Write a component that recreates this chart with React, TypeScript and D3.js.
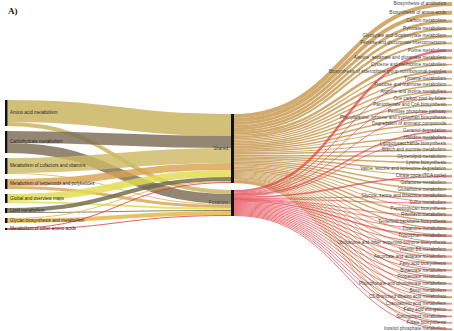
import React from 'react';
import * as d3 from 'd3';

const leftCategories = [
  'Amino acid metabolism',
  'Carbohydrate metabolism',
  'Metabolism of cofactors and vitamins',
  'Metabolism of terpenoids and polyketides',
  'Global and overview maps',
  'Lipid metabolism',
  'Glycan biosynthesis and metabolism',
  'Metabolism of other amino acids',
];
const leftColors = ['#c8b25a', '#7b6c55', '#cdb964', '#d9a24f', '#e2dc4e', '#6f6a4c', '#e7b344', '#e03c3c'];
const leftToShared = [44, 24, 30, 14, 14, 8, 2, 2];
const leftToFusarium = [8, 20, 2, 6, 4, 2, 8, 2];

const middleGroups = ['Shared', 'Fusarium'];
const middleColors = ['#c99c55', '#e23c46'];

const rightPathways = [
  'Biosynthesis of antibiotics',
  'Biosynthesis of amino acids',
  'Carbon metabolism',
  'Pyruvate metabolism',
  'Glyoxylate and dicarboxylate metabolism',
  'Pentose and glucuronate interconversions',
  'Purine metabolism',
  'Alanine, aspartate and glutamate metabolism',
  'Cysteine and methionine metabolism',
  'Biosynthesis of siderophore group nonribosomal peptides',
  'Tyrosine metabolism',
  'Fructose and mannose metabolism',
  'Arginine and proline metabolism',
  'One carbon pool by folate',
  'Pantothenate and CoA biosynthesis',
  'Pentose phosphate pathway',
  'Phenylalanine, tyrosine and tryptophan biosynthesis',
  'Degradation of aromatic compounds',
  'Geraniol degradation',
  'Histidine metabolism',
  'Lipopolysaccharide biosynthesis',
  'Starch and sucrose metabolism',
  'Glycerolipid metabolism',
  'Lysine biosynthesis',
  'Valine, leucine and isoleucine degradation',
  'Citrate cycle (TCA cycle)',
  'Galactose metabolism',
  'Glutathione metabolism',
  'Glycine, serine and threonine metabolism',
  'Sulfur metabolism',
  'Peptidoglycan biosynthesis',
  'Riboflavin metabolism',
  'Terpenoid backbone biosynthesis',
  'Thiamine metabolism',
  'Tryptophan metabolism',
  'Ubiquinone and other terpenoid-quinone biosynthesis',
  'Vitamin B6 metabolism',
  'Ascorbate and aldarate metabolism',
  'Fatty acid biosynthesis',
  'Butanoate metabolism',
  'Propanoate metabolism',
  'Phosphonate and phosphinate metabolism',
  'Biotin metabolism',
  'C5-Branched dibasic acid metabolism',
  'Cyanoamino acid metabolism',
  'Fatty acid elongation',
  'Sphingolipid metabolism',
  'Folate biosynthesis',
  'Inositol phosphate metabolism',
];
const rightShared = [8, 8, 6, 5, 5, 4, 0, 5, 3, 4, 3, 3, 3, 3, 3, 3, 3, 3, 1, 3, 2, 3, 3, 3, 3, 2, 3, 3, 3, 2, 2, 3, 3, 3, 2, 2, 2, 2, 2, 2, 2, 1, 2, 2, 1, 1, 1, 1, 1];
const rightFusarium = [0, 0, 0, 0, 0, 0, 5, 0, 0, 2, 0, 0, 1, 0, 0, 1, 0, 0, 3, 1, 0, 0, 0, 0, 0, 3, 0, 0, 1, 1, 0, 1, 1, 1, 3, 2, 2, 2, 2, 2, 2, 2, 2, 2, 2, 2, 2, 2, 2];

const W = 454;
const H = 331;

export default function App() {
  const ky = d3.scaleLinear().domain([0, 1]).range([0, 0.5]);
  const centerY = 165;
  const xLeft = [5, 7.5];
  const xMid = [231, 234];
  const xRight = 452;

  const leftVals = leftCategories.map((_, i) => leftToShared[i] + leftToFusarium[i]);
  const leftPad = 5;
  const leftTotal = ky(d3.sum(leftVals)) + leftPad * (leftVals.length - 1);
  let y = centerY - leftTotal / 2;
  const leftNodes = leftVals.map((v) => {
    const n = { y0: y, y1: y + ky(v) };
    y = n.y1 + leftPad;
    return n;
  });

  const midVals = [d3.sum(leftToShared), d3.sum(leftToFusarium)];
  const midPad = 7;
  const midTotal = ky(d3.sum(midVals)) + midPad;
  y = centerY - midTotal / 2;
  const midNodes = midVals.map((v) => {
    const n = { y0: y, y1: y + ky(v) };
    y = n.y1 + midPad;
    return n;
  });

  const rightVals = rightPathways.map((_, i) => rightShared[i] + rightFusarium[i]);
  const rTop = 2;
  const rBottom = 330;
  const rightPad = (rBottom - rTop - ky(d3.sum(rightVals))) / (rightVals.length - 1);
  y = rTop;
  const rightNodes = rightVals.map((v) => {
    const n = { y0: y, y1: y + ky(v) };
    y = n.y1 + rightPad;
    return n;
  });

  const link = d3.linkHorizontal();

  const leftLinks: any[] = [];
  const midIn = midNodes.map((n) => n.y0);
  leftCategories.forEach((_, i) => {
    let sy = leftNodes[i].y0;
    [leftToShared[i], leftToFusarium[i]].forEach((v, m) => {
      if (v <= 0) return;
      const w = ky(v);
      leftLinks.push({
        d: link({ source: [xLeft[1], sy + w / 2], target: [xMid[0], midIn[m] + w / 2] } as any),
        w,
        color: leftColors[i],
      });
      sy += w;
      midIn[m] += w;
    });
  });

  const rightLinks: any[] = [];
  const midOut = midNodes.map((n) => n.y0);
  const rightIn = rightNodes.map((n) => n.y0);
  const flows = [rightShared, rightFusarium];
  const incoming: any[][] = [[], []];
  rightPathways.forEach((_, j) => {
    flows.forEach((arr, m) => {
      const v = arr[j];
      if (v <= 0) return;
      const w = ky(v);
      incoming[m].push({ j, w, sy: midOut[m] + w / 2, ty: rightIn[j] + w / 2 });
      midOut[m] += w;
      rightIn[j] += w;
    });
  });
  [0, 1].forEach((m) => {
    incoming[m].forEach((l) => {
      rightLinks.push({
        d: link({ source: [xMid[1], l.sy], target: [xRight, l.ty] } as any),
        w: l.w,
        color: middleColors[m],
        m,
      });
    });
  });

  const font = 'Liberation Sans, Arial, sans-serif';

  return (
    <svg width={W} height={H} style={{ position: 'absolute', left: 0, top: 0, background: '#fff' }}>
      <text x={8} y={14} fontFamily="Liberation Serif, Times New Roman, serif" fontWeight="bold" fontSize={9} fill="#111">
        A)
      </text>
      <g>
        {leftLinks.map((l, i) => (
          <path key={i} d={l.d} fill="none" stroke={l.color} strokeWidth={l.w} strokeOpacity={0.82} />
        ))}
      </g>
      <g>
        {rightLinks.map((l, i) => (
          <path key={i} d={l.d} fill="none" stroke={l.color} strokeWidth={Math.max(0.9, l.w)} strokeOpacity={l.m === 0 ? 0.85 : 0.7} />
        ))}
      </g>
      <g>
        {leftNodes.map((n, i) => (
          <rect key={i} x={xLeft[0]} y={n.y0} width={xLeft[1] - xLeft[0]} height={n.y1 - n.y0} fill="#111" />
        ))}
        {midNodes.map((n, i) => (
          <rect key={i} x={xMid[0]} y={n.y0} width={xMid[1] - xMid[0]} height={n.y1 - n.y0} fill="#111" />
        ))}
      </g>
      <g fontFamily={font} fontSize={4.6} fill="#2a2a2a">
        {leftNodes.map((n, i) => (
          <text key={i} x={10} y={(n.y0 + n.y1) / 2} dominantBaseline="middle">
            {leftCategories[i]}
          </text>
        ))}
        {midNodes.map((n, i) => (
          <text key={i} x={xMid[0] - 3} y={(n.y0 + n.y1) / 2} dominantBaseline="middle" textAnchor="end" fill="#444">
            {middleGroups[i]}
          </text>
        ))}
        {rightNodes.map((n, i) => (
          <text key={i} x={446} y={(n.y0 + n.y1) / 2} dominantBaseline="middle" textAnchor="end" fill="#444">
            {rightPathways[i]}
          </text>
        ))}
      </g>
    </svg>
  );
}
